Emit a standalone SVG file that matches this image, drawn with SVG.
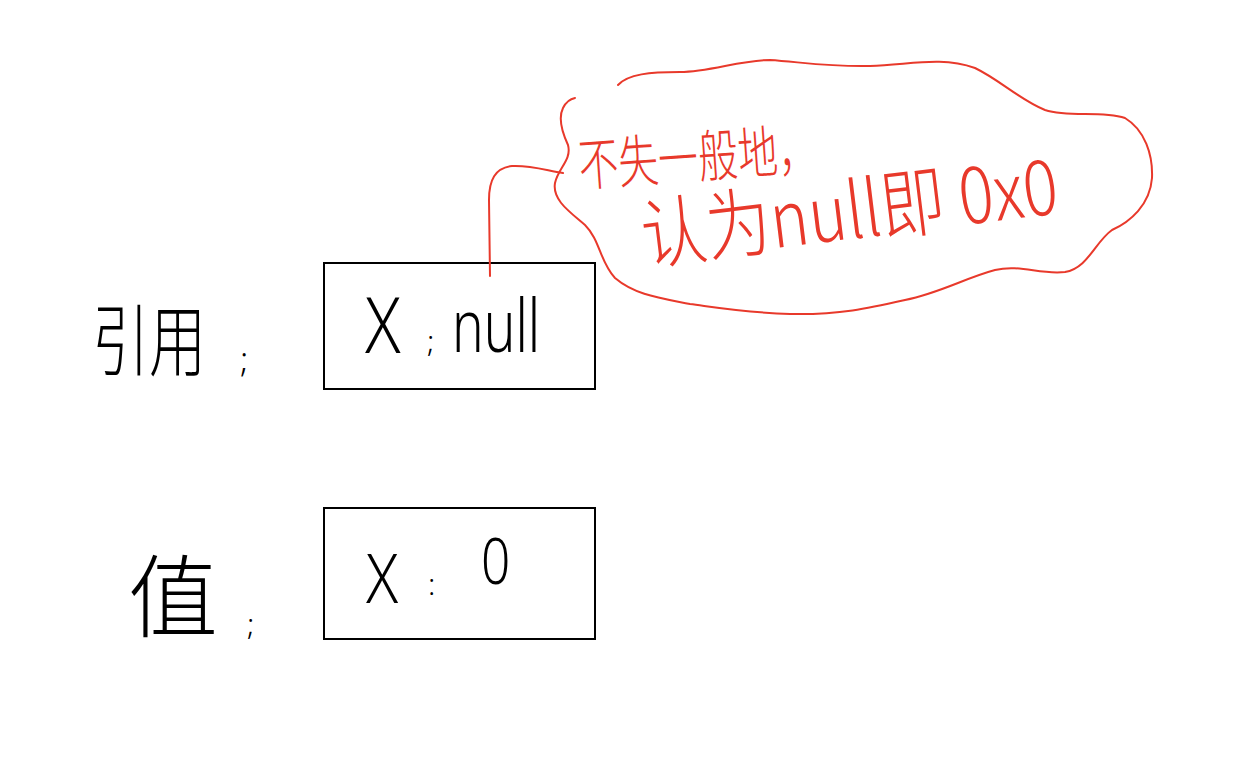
<svg xmlns="http://www.w3.org/2000/svg" width="1236" height="768" viewBox="0 0 1236 768">
<style>
.box{fill:none;stroke:#000;stroke-width:2}
.red{fill:none;stroke:#e8392b;stroke-width:2;stroke-linecap:round;stroke-linejoin:round}
.hand{font-family:"Noto Sans CJK SC","Liberation Sans",sans-serif;fill:#000;font-weight:200}
.lat{font-family:"Noto Sans","Liberation Sans",sans-serif;fill:#000;font-weight:300}
.rt{font-family:"Noto Sans CJK SC","Liberation Sans",sans-serif;fill:#e8392b;font-weight:300}
</style>
<rect width="1236" height="768" fill="#fff"/>
<g id="label-ref">
<text class="hand" x="0" y="0" font-size="60" transform="translate(92 370) scale(0.95 1.3)">引用</text>
<text class="lat" x="240" y="372" font-size="34">;</text>
</g>
<g id="label-val">
<text class="hand" x="128" y="630" font-size="90">值</text>
<text class="lat" x="247" y="635" font-size="30">;</text>
</g>
<g id="box-ref">
<rect class="box" x="324" y="263" width="271" height="126"/>
<text class="lat" x="0" y="0" font-size="62" transform="translate(365 353) scale(1.05 1.25)">X</text>
<text class="lat" x="427" y="352" font-size="30">;</text>
<text class="lat" x="0" y="0" font-size="56" transform="translate(452 352) scale(0.95 1.3)">null</text>
</g>
<g id="box-val">
<rect class="box" x="324" y="508" width="271" height="131"/>
<text class="lat" x="0" y="0" font-size="56" transform="translate(366 603) scale(1.05 1.2)">X</text>
<text class="lat" x="428" y="595" font-size="30">:</text>
<text class="lat" x="0" y="0" font-size="54" transform="translate(481 584) scale(0.95 1.2)">0</text>
</g>
<g id="note">
<path class="red" d="M618,85 C628,74 650,72 680,72 C710,72 740,60 770,60 C800,62 830,67 870,66 C910,65 940,56 975,68 C1000,80 1020,100 1045,110 C1070,118 1100,110 1125,118 C1145,130 1153,155 1152,178 C1150,205 1130,222 1112,230 C1095,242 1088,268 1065,272 C1040,275 1020,264 995,270 C965,278 940,293 905,300 C870,308 840,315 790,314 C750,313 720,308 690,304 C660,298 635,295 615,278 C600,262 600,240 585,225 C570,212 552,200 555,183 C558,168 572,160 568,145 C562,132 558,118 563,108 C566,102 570,99 575,98"/>
<text class="rt" x="0" y="0" font-size="42" transform="translate(580 186) rotate(-4) scale(0.95 1.35)">不失一般地，</text>
<text class="rt" x="0" y="0" font-size="60" transform="translate(645 264) rotate(-7) scale(1.08 1.28)">认为null即 0x0</text>
</g>
<g id="connectors">
<path class="red" d="M490,276 L489,200 C489,180 495,168 512,166 C530,165 545,170 563,173"/>
</g>
</svg>
